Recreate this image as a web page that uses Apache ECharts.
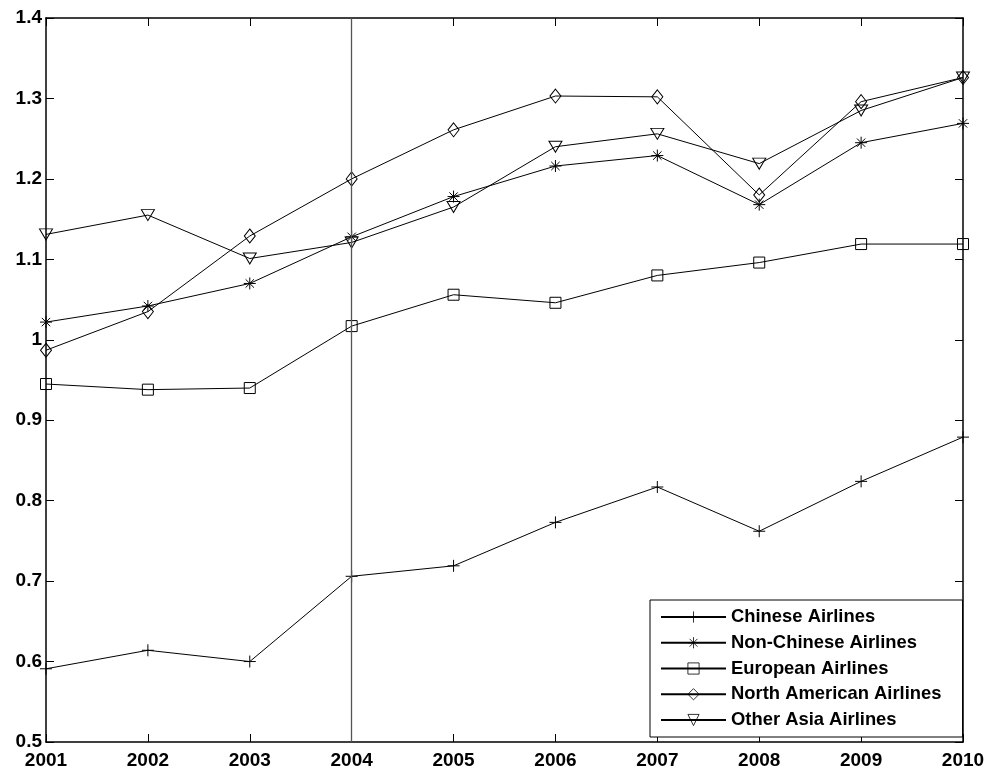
<!DOCTYPE html>
<html>
<head>
<meta charset="utf-8">
<script src="https://cdn.jsdelivr.net/npm/echarts@6/dist/echarts.min.js"></script>
<style>html,body{margin:0;padding:0;background:#fff;}#c{width:989px;height:771px;}</style>
</head>
<body>
<div id="c"></div>
<script>
var years = ['2001','2002','2003','2004','2005','2006','2007','2008','2009','2010'];
var chinese = [0.591, 0.614, 0.600, 0.706, 0.719, 0.773, 0.817, 0.762, 0.824, 0.879];
var nonChinese = [1.022, 1.042, 1.070, 1.128, 1.178, 1.216, 1.229, 1.168, 1.245, 1.269];
var european = [0.945, 0.938, 0.940, 1.017, 1.056, 1.046, 1.080, 1.096, 1.119, 1.119];
var northAmerican = [0.987, 1.035, 1.129, 1.200, 1.261, 1.303, 1.302, 1.180, 1.296, 1.326];
var otherAsia = [1.131, 1.155, 1.101, 1.121, 1.165, 1.240, 1.256, 1.219, 1.285, 1.326];
var yTicks = {min: 0.5, max: 1.4, interval: 0.1};

var FONT = 'Liberation Sans, Arial, sans-serif';
var SYM = {
  plus: 'path://M0,-1L0,1M-1,0L1,0',
  star: 'path://M0,-1L0,1M-1,0L1,0M-0.7,-0.7L0.7,0.7M-0.7,0.7L0.7,-0.7',
  square: 'path://M-1,-1L1,-1L1,1L-1,1Z',
  diamond: 'path://M0,-1L1,0L0,1L-1,0Z',
  tri: 'path://M-1,-0.8L1,-0.8L0,1Z'
};
function mk(name, data, sym, size) {
  return {
    name: name, type: 'line', data: data,
    symbol: sym, symbolSize: size, showSymbol: true,
    lineStyle: {color: '#000', width: 1},
    itemStyle: {color: 'none', borderColor: '#000', borderWidth: 1},
    emphasis: {disabled: true},
    z: 3
  };
}
var series = [
  mk('Chinese Airlines', chinese, SYM.plus, 12),
  mk('Non-Chinese Airlines', nonChinese, SYM.star, 12),
  mk('European Airlines', european, SYM.square, 11),
  mk('North American Airlines', northAmerican, SYM.diamond, [11, 14]),
  mk('Other Asia Airlines', otherAsia, SYM.tri, [13, 11])
];
series[0].markLine = {
  symbol: 'none', silent: true, label: {show: false},
  lineStyle: {color: '#555', width: 1.3, type: 'solid'},
  data: [{xAxis: '2004'}]
};

var chart = echarts.init(document.getElementById('c'));
chart.setOption({
  animation: false,
  backgroundColor: '#fff',
  grid: {left: 46, right: 26, top: 18, bottom: 29, containLabel: false},
  xAxis: [{
    type: 'category', data: years, boundaryGap: false, position: 'bottom',
    axisLine: {lineStyle: {color: '#000', width: 1.5}},
    axisTick: {inside: true, length: 8, alignWithLabel: true, lineStyle: {color: '#000', width: 1}},
    axisLabel: {color: '#000', fontFamily: FONT, fontWeight: 'bold', fontSize: 19, margin: 9, interval: 0, showMinLabel: true, showMaxLabel: true},
    splitLine: {show: false}
  }, {
    type: 'category', data: years, boundaryGap: false, position: 'top',
    axisLine: {lineStyle: {color: '#000', width: 1.5}},
    axisTick: {inside: true, length: 8, lineStyle: {color: '#000', width: 1}},
    axisLabel: {show: false}, splitLine: {show: false}
  }],
  yAxis: [{
    type: 'value', min: yTicks.min, max: yTicks.max, interval: yTicks.interval, position: 'left',
    axisLine: {show: true, lineStyle: {color: '#000', width: 1.5}},
    axisTick: {show: true, inside: true, length: 8, lineStyle: {color: '#000', width: 1}},
    axisLabel: {color: '#000', fontFamily: FONT, fontWeight: 'bold', fontSize: 19, margin: 4,
      formatter: function (v) { return String(Math.round(v * 10) / 10); }},
    splitLine: {show: false}
  }, {
    type: 'value', min: yTicks.min, max: yTicks.max, interval: yTicks.interval, position: 'right',
    axisLine: {show: true, lineStyle: {color: '#000', width: 1.5}},
    axisTick: {show: true, inside: true, length: 8, lineStyle: {color: '#000', width: 1}},
    axisLabel: {show: false}, splitLine: {show: false}
  }],
  legend: {
    orient: 'vertical', left: 650, top: 600,
    backgroundColor: '#fff', borderColor: '#000', borderWidth: 1, borderRadius: 0,
    padding: [8, 21, 8, 10],
    itemWidth: 65, itemHeight: 14, itemGap: 7.75,
    textStyle: {color: '#000', fontFamily: FONT, fontWeight: 'bold', fontSize: 18.4},
    itemStyle: {borderWidth: 0.8},
    selectedMode: false,
    data: series.map(function (s) { return s.name; })
  },
  series: series
});
</script>
</body>
</html>
